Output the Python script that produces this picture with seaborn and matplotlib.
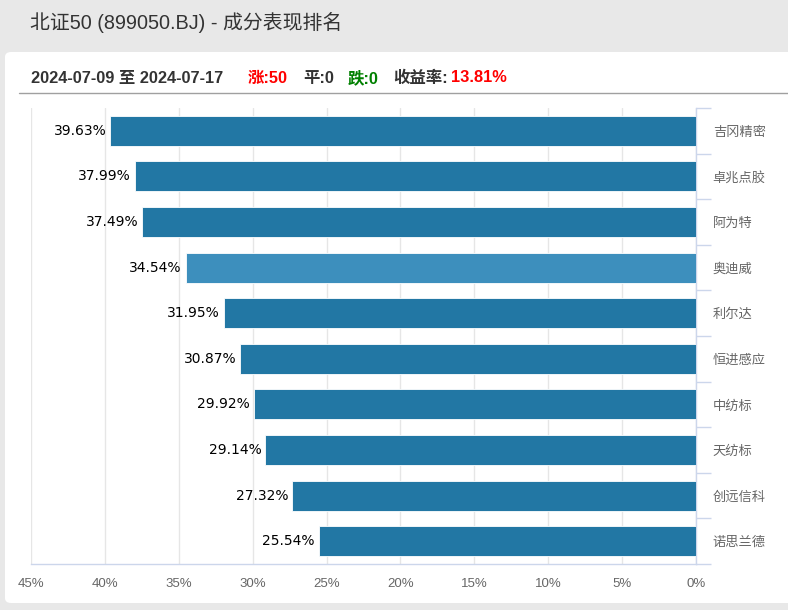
import numpy as np
import pandas as pd
import seaborn as sns
import matplotlib.pyplot as plt
from matplotlib.patches import FancyBboxPatch
from matplotlib.lines import Line2D

# Data
names = ['吉冈精密', '卓兆点胶', '阿为特', '奥迪威', '利尔达', '恒进感应', '中纺标', '天纺标', '创远信科', '诺思兰德']
returns = [39.63, 37.99, 37.49, 34.54, 31.95, 30.87, 29.92, 29.14, 27.32, 25.54]
x_ticks = [45, 40, 35, 30, 25, 20, 15, 10, 5, 0]

bar_color = '#2277a4'
hover_color = '#3d8fbd'
colors = [hover_color if n == '奥迪威' else bar_color for n in names]

sns.set_theme(style='white')
plt.rcParams['font.family'] = ['Liberation Sans', 'Noto Sans CJK SC']

fig = plt.figure(figsize=(7.88, 6.1), dpi=100)
fig.patch.set_facecolor('#e8e8e8')

W, H = 788, 610
def fx(px):
    return px / W
def fy(py):
    return 1 - py / H

# white card behind everything
card = FancyBboxPatch((fx(5), fy(603)), fx(800) - fx(5), fy(52) - fy(603),
                      boxstyle='round,pad=0,rounding_size=0.008',
                      transform=fig.transFigure, facecolor='white', edgecolor='none', zorder=-10)
fig.patches.append(card)

# title
fig.text(fx(30), fy(22), '北证50 (899050.BJ) - 成分表现排名', fontsize=14.3, color='#333333',
         ha='left', va='center')

# header line of stats
hy = fy(78)
parts = [(31, '2024-07-09 至 2024-07-17', '#333333'),
         (248, '涨:50', '#ff0000'),
         (303, '平:0', '#333333'),
         (348, '跌:0', '#008000'),
         (393, '收益率:', '#333333'),
         (451, '13.81%', '#ff0000')]
for px, txt, col in parts:
    fig.text(fx(px), hy, txt, fontsize=11.8, fontweight='bold', color=col, ha='left', va='center')
fig.lines.append(Line2D([fx(19), fx(788)], [fy(93), fy(93)], transform=fig.transFigure,
                        color='#a0a0a0', linewidth=1))

ax = fig.add_axes([fx(31), fy(564), fx(696) - fx(31), fy(108) - fy(564)])
ax.set_facecolor('none')
df = pd.DataFrame({'name': names, 'ret': returns})
sns.barplot(data=df, x='ret', y='name', hue='name', palette=colors, legend=False,
            orient='h', width=0.66, saturation=1, ax=ax, edgecolor='white', linewidth=0.6, zorder=3)

ax.set_xlim(45, 0)
ax.set_ylim(len(names) - 0.5, -0.5)
ax.set_xticks(x_ticks)
ax.set_xticklabels([f'{t}%' for t in x_ticks], color='#666666', fontsize=9.5)
ax.tick_params(axis='x', length=0, pad=10)
ax.grid(axis='x', color='#e6e6e6', linewidth=1, zorder=0)
ax.set_axisbelow(True)

ax.yaxis.tick_right()
ax.set_yticks(range(len(names)))
ax.set_yticklabels(names, color='#666666', fontsize=9.5,
                   family=['Noto Sans CJK SC'])
ax.tick_params(axis='y', which='major', length=0, pad=12)
ax.set_yticks(np.arange(-0.5, len(names), 1), minor=True)
ax.tick_params(axis='y', which='minor', length=11, width=1, color='#ccd6eb', right=True, left=False)
ax.set_xlabel('')
ax.set_ylabel('')

for s in ['top', 'left']:
    ax.spines[s].set_visible(False)
ax.spines['bottom'].set_color('#ccd6eb')
ax.spines['right'].set_color('#ccd6eb')
ax.spines['bottom'].set_linewidth(1)
ax.spines['right'].set_linewidth(1)

for i, v in enumerate(returns):
    ax.text(v + 0.25, i, f'{v:.2f}%', ha='right', va='center', fontsize=10, color='#000000',
            family=['DejaVu Sans'])

fig.savefig('out.png', dpi=100, facecolor=fig.get_facecolor())
